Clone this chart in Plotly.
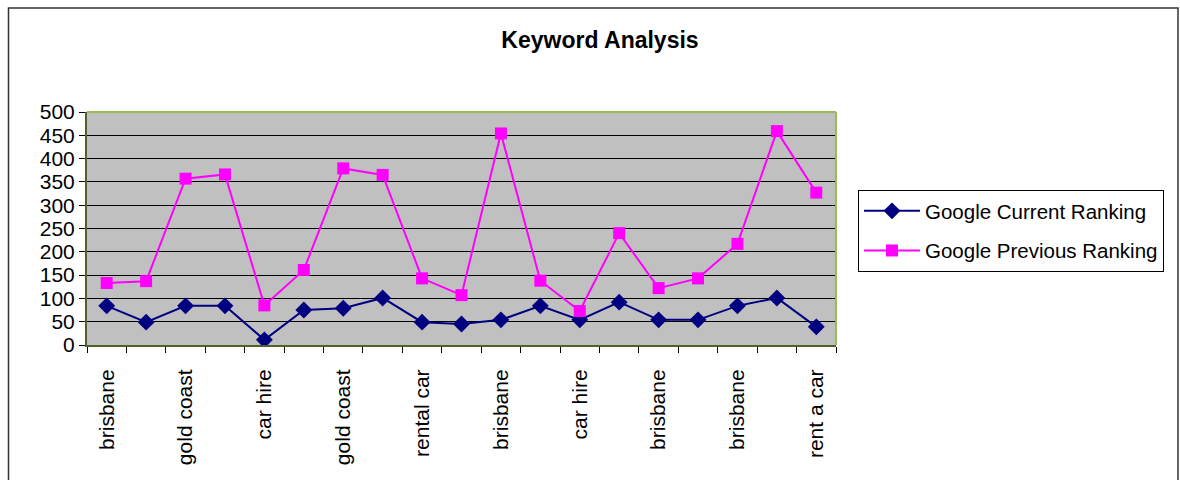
import plotly.graph_objects as go

positions = list(range(1, 20))
label_positions = [1, 3, 5, 7, 9, 11, 13, 15, 17, 19]
tick_labels = ["brisbane", "gold coast", "car hire", "gold coast", "rental car",
               "brisbane", "car hire", "brisbane", "brisbane", "rent a car"]
current_ranking = [84, 49, 84, 84, 11, 75, 79, 101, 49, 45, 54, 84, 54, 92, 54, 54, 84, 101, 39]
previous_ranking = [133, 137, 357, 366, 85, 161, 379, 365, 143, 107, 454, 138, 73, 240, 122, 143, 217, 459, 327]

FONT = "Liberation Sans, Arial, sans-serif"

fig = go.Figure()
fig.add_trace(go.Scatter(
    x=positions, y=current_ranking, name="Google Current Ranking",
    mode="lines+markers", legendgroup="a",
    line=dict(color="#000080", width=2),
    marker=dict(symbol="diamond", size=13, color="#000080"),
))
fig.add_trace(go.Scatter(
    x=positions, y=previous_ranking, name="Google Previous Ranking",
    mode="lines+markers", legendgroup="b",
    line=dict(color="#FF00FF", width=2),
    marker=dict(symbol="square", size=12, color="#FF00FF"),
))

L, R, T, B = 87, 1180 - 836, 112, 480 - 345
pw, ph = 1180 - L - R, 480 - T - B

fig.update_layout(
    width=1180, height=480,
    margin=dict(l=L, r=R, t=T, b=B),
    paper_bgcolor="white", plot_bgcolor="#C0C0C0",
    font=dict(family=FONT, size=19, color="black"),
    title=dict(text="<b>Keyword Analysis</b>", x=(600 - L) / pw, xref="paper",
               xanchor="center", y=1 - 40 / 480, yanchor="middle",
               font=dict(family=FONT, size=23, color="black")),
    legend=dict(x=(858 - L) / pw, y=(345 - 190) / ph, xanchor="left", yanchor="top",
                bgcolor="white", bordercolor="black", borderwidth=1,
                font=dict(family=FONT, size=20.5), tracegroupgap=10, itemwidth=56),
    showlegend=True,
)
fig.update_xaxes(
    range=[0.5, 19.5], tickmode="array", tickvals=label_positions, ticktext=tick_labels,
    tickangle=-90, ticks="", showgrid=False, zeroline=False, automargin=False,
    showline=True, linecolor="#4F6228", linewidth=2,
    minor=dict(tickmode="linear", tick0=0.5, dtick=1, ticks="outside", ticklen=6,
               tickcolor="black", showgrid=False),
    tickfont=dict(family=FONT, size=21), ticklabelstandoff=14,
)
fig.update_yaxes(
    range=[0, 500], tickmode="linear", tick0=0, dtick=50, automargin=False,
    ticks="outside", ticklen=6, tickcolor="black",
    showgrid=True, gridcolor="black", gridwidth=1, zeroline=False,
    showline=True, linecolor="#4F6228", linewidth=2,
    tickfont=dict(family=FONT, size=21),
)
# plot area border (top/right)
fig.add_shape(type="line", xref="paper", yref="paper", x0=0, x1=1, y0=1, y1=1,
              line=dict(color="#9BBB59", width=2))
fig.add_shape(type="line", xref="paper", yref="paper", x0=1, x1=1, y0=0, y1=1,
              line=dict(color="#9BBB59", width=2))
# outer chart border
fig.add_shape(type="rect", xref="paper", yref="paper",
              x0=(8.5 - L) / pw, x1=(1178 - L) / pw,
              y0=(345 - 490) / ph, y1=(345 - 8) / ph,
              line=dict(color="#333333", width=1.5), layer="below")

fig.write_html("out.html", config={"displayModeBar": False},
               post_script="document.body.style.margin='0px';")
